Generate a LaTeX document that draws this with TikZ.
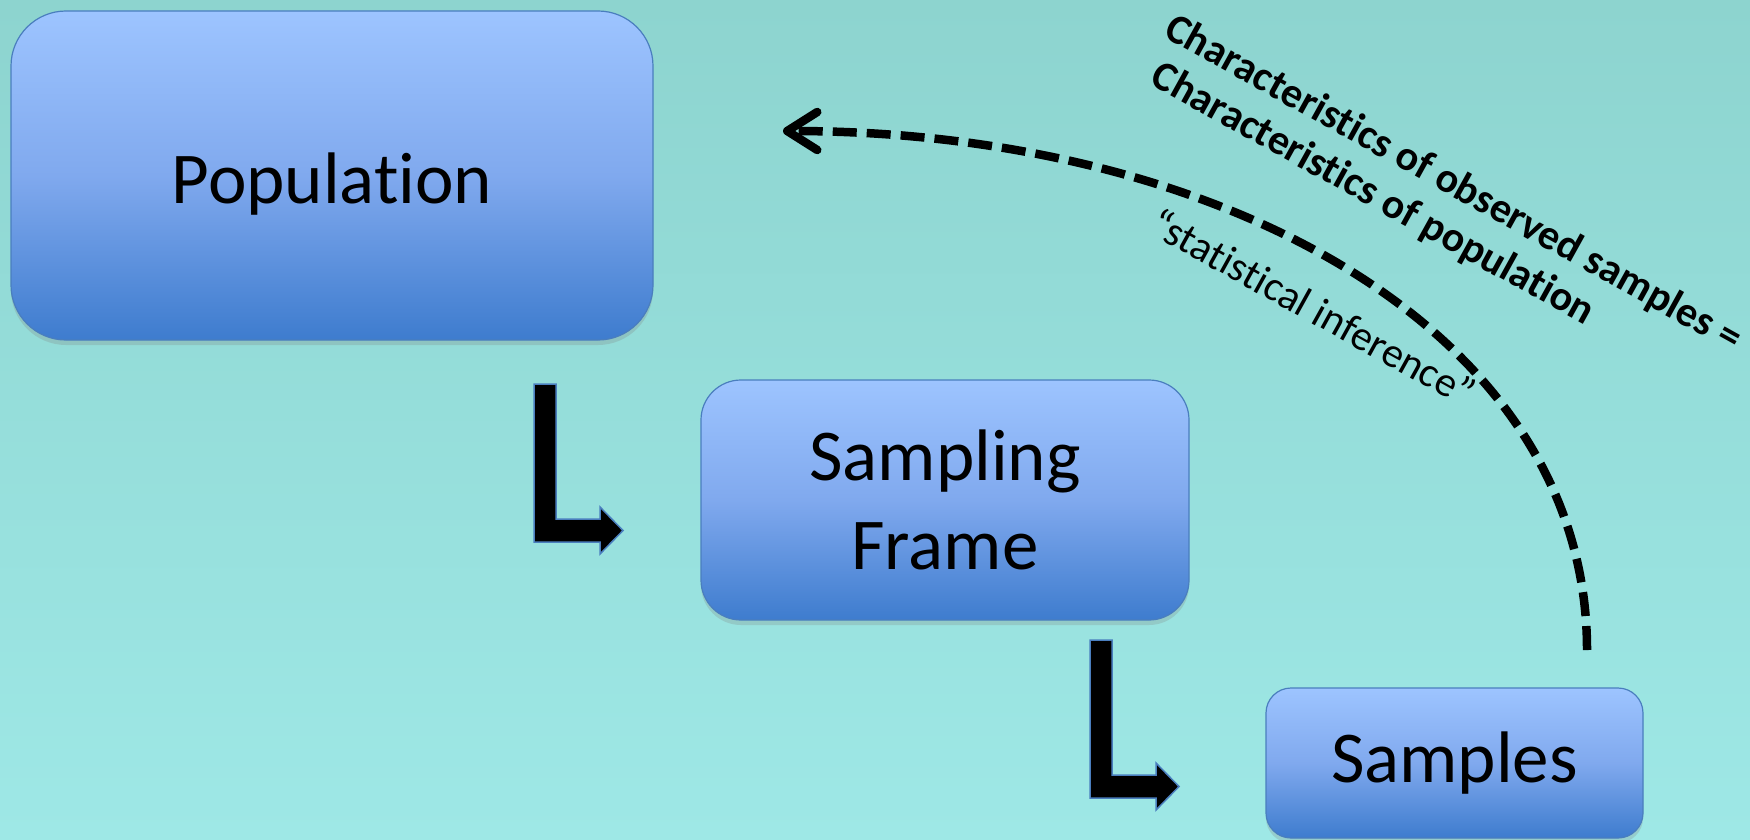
\documentclass[tikz,border=0pt]{standalone}
\usepackage{fontspec}
\setmainfont{Carlito}[Ligatures=NoCommon]
\usetikzlibrary{arrows.meta,shadows}
\definecolor{bgtop}{RGB}{141,212,207}
\definecolor{bgbot}{RGB}{158,232,230}
\definecolor{boxtop}{RGB}{157,196,255}
\definecolor{boxmid}{RGB}{128,169,238}
\definecolor{boxbot}{RGB}{62,124,206}
\definecolor{boxline}{RGB}{74,126,190}
\tikzset{
  box/.style={draw=boxline, line width=1.2pt, top color=boxtop, bottom color=boxbot, middle color=boxmid,
    inner sep=0pt, align=center, font=\fontsize{73}{89}\selectfont,
    drop shadow={opacity=0.25, shadow xshift=0pt, shadow yshift=-5pt}},
  larrow/.style={fill=black, draw=boxline, line width=1.5pt, line join=miter},
  bent/.pic={\filldraw[larrow] (0,0) -- (22,0) -- (22,135) -- (66,135) -- (66,123) -- (89,146.5) -- (66,170) -- (66,158) -- (0,158) -- cycle;},
  infer/.style={line width=8.5pt, dash pattern=on 24pt off 10pt,
    -{Straight Barb[length=30pt,width=38pt,line cap=round,line join=round]}},
  claim/.style={rotate=-29, anchor=base west, inner sep=0pt, font=\bfseries\fontsize{42}{47}\selectfont},
  note/.style={rotate=-29, anchor=base west, inner sep=0pt, font=\fontsize{42}{47}\selectfont}
}
\begin{document}
\begin{tikzpicture}[x=1pt,y=-1pt]
\useasboundingbox (0,0) rectangle (1750,840);
\shade[top color=bgtop, bottom color=bgbot] (0,0) rectangle (1750,840);

\node[box, minimum width=642pt, minimum height=329pt, rounded corners=55pt, text height=71pt, text depth=15pt] (pop) at (332,175.5) {Population};
\node[box, minimum width=488pt, minimum height=240pt, rounded corners=40pt] (frame) at (945,500) {Sampling\\Frame};
\node[box, minimum width=377pt, minimum height=150pt, rounded corners=25pt] (samp) at (1454.5,763) {Samples};

\pic (arrA) at (534,384) {bent};
\pic (arrB) at (1090,640) {bent};

\coordinate (infStart) at (1587,650);
\coordinate (infEnd) at (783,131);
\draw[infer] (infStart) .. controls (1587,330) and (1220,131) .. (infEnd);

\node[claim] (claimA) at (1162,36) {Characteristics of observed samples =};
\node[claim] (claimB) at (1148.5,83.5) {Characteristics of population};
\node[note] (inf) at (1147,232) {“statistical inference”};
\end{tikzpicture}
\end{document}
